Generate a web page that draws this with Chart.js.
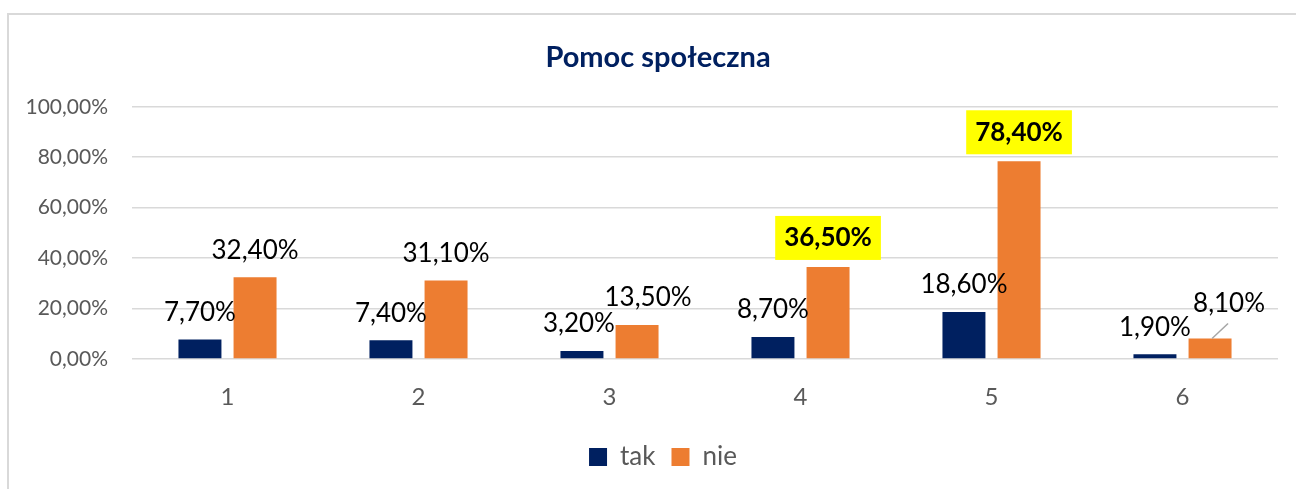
<!DOCTYPE html>
<html>
<head>
<meta charset="utf-8">
<script src="https://cdn.jsdelivr.net/npm/chart.js@4/dist/chart.umd.min.js"></script>
<style>
  html, body { margin: 0; padding: 0; background: #fff; overflow: hidden; }
  #wrap { position: absolute; left: 0; top: 0; width: 1296px; height: 489px; }
  #frame { position: absolute; left: 7px; top: 13px; width: 1400px; height: 600px;
           border: 2px solid #d9d9d9; pointer-events: none; }
</style>
</head>
<body>
<div id="wrap"><canvas id="chart"></canvas></div>
<div id="frame"></div>
<script>
// data
var categories = ['1', '2', '3', '4', '5', '6'];
var seriesNames = ['tak', 'nie'];
var takValues = [7.7, 7.4, 3.2, 8.7, 18.6, 1.9];
var nieValues = [32.4, 31.1, 13.5, 36.5, 78.4, 8.1];
var yTicks = [0, 20, 40, 60, 80, 100];

// label styling (which labels are highlighted / moved)
var highlighted = [[], [3, 4]];
var labelShift = { '0-2': [-3, 0], '1-2': [11, 0], '1-5': [19, -8] };
var leaderLines = ['1-5'];

function fmt(v) {
    return v.toFixed(2).replace('.', ',') + '%';
}

// the original frame is wider than the picture, so title and legend sit a bit right
var shiftBlocks = {
    id: 'shiftBlocks',
    afterLayout: function (chart) {
        if (chart.titleBlock) { chart.titleBlock.left += 15; chart.titleBlock.right += 15; }
        if (chart.legend) { chart.legend.left += 20; chart.legend.right += 20; }
    }
};

var barLabels = {
    id: 'barLabels',
    afterDatasetsDraw: function (chart) {
        var ctx = chart.ctx;
        chart.data.datasets.forEach(function (ds, di) {
            var meta = chart.getDatasetMeta(di);
            meta.data.forEach(function (bar, i) {
                var key = di + '-' + i;
                var text = fmt(ds.data[i]);
                var hl = highlighted[di].indexOf(i) >= 0;
                var shift = labelShift[key] || [0, 0];
                var x = bar.x + shift[0];
                var y = bar.y - (hl ? 29 : 27) + shift[1];
                ctx.save();
                ctx.font = (hl ? 'bold ' : '') + '26px Lato';
                ctx.textAlign = 'center';
                ctx.textBaseline = 'middle';
                if (hl) {
                    var w = ctx.measureText(text).width + 18;
                    ctx.fillStyle = '#FFFF00';
                    ctx.fillRect(x - w / 2, y - 22, w, 44);
                }
                if (leaderLines.indexOf(key) >= 0) {
                    ctx.strokeStyle = '#A6A6A6';
                    ctx.lineWidth = 1.5;
                    ctx.beginPath();
                    ctx.moveTo(bar.x + 2, bar.y);
                    ctx.lineTo(bar.x + 18, bar.y - 15);
                    ctx.stroke();
                }
                ctx.fillStyle = '#000';
                ctx.fillText(text, x, y);
                ctx.restore();
            });
        });
    }
};

function createChart() {
    var ctx = document.getElementById('chart').getContext('2d');
    new Chart(ctx, {
        type: 'bar',
        data: {
            labels: categories,
            datasets: [{
                label: seriesNames[0],
                data: takValues,
                backgroundColor: '#002060'
            }, {
                label: seriesNames[1],
                data: nieValues,
                backgroundColor: '#ED7D31'
            }]
        },
        options: {
            responsive: true,
            maintainAspectRatio: false,
            animation: false,
            categoryPercentage: 0.577,
            barPercentage: 0.78,
            layout: { padding: { top: 14, right: 18, left: 8, bottom: 9 } },
            plugins: {
                title: {
                    display: true,
                    text: 'Pomoc społeczna',
                    color: '#002060',
                    font: { family: 'Lato', size: 29, weight: 'bold' },
                    padding: { top: 26, bottom: 32 }
                },
                legend: {
                    position: 'bottom',
                    labels: {
                        color: '#595959',
                        font: { family: 'Lato', size: 26 },
                        boxWidth: 18,
                        boxHeight: 18,
                        padding: 16
                    }
                },
                tooltip: { enabled: false }
            },
            scales: {
                x: {
                    afterFit: function (scale) { scale.height = 69; },
                    grid: { display: false },
                    border: { display: false },
                    ticks: {
                        color: '#595959',
                        font: { family: 'Lato', size: 24 },
                        padding: 16
                    }
                },
                y: {
                    min: 0,
                    max: 100,
                    afterBuildTicks: function (scale) {
                        scale.ticks = yTicks.map(function (v) { return { value: v }; });
                    },
                    afterFit: function (scale) { scale.width = 124; },
                    grid: { color: '#D9D9D9', lineWidth: 1.5, drawTicks: false },
                    border: { display: false },
                    ticks: {
                        color: '#595959',
                        font: { family: 'Lato', size: 21 },
                        padding: 24,
                        callback: function (v) { return fmt(v); }
                    }
                }
            }
        },
        plugins: [shiftBlocks, barLabels]
    });
}

Promise.all([
    document.fonts.load('26px Lato'),
    document.fonts.load('bold 26px Lato')
]).then(createChart, createChart);
</script>
</body>
</html>
